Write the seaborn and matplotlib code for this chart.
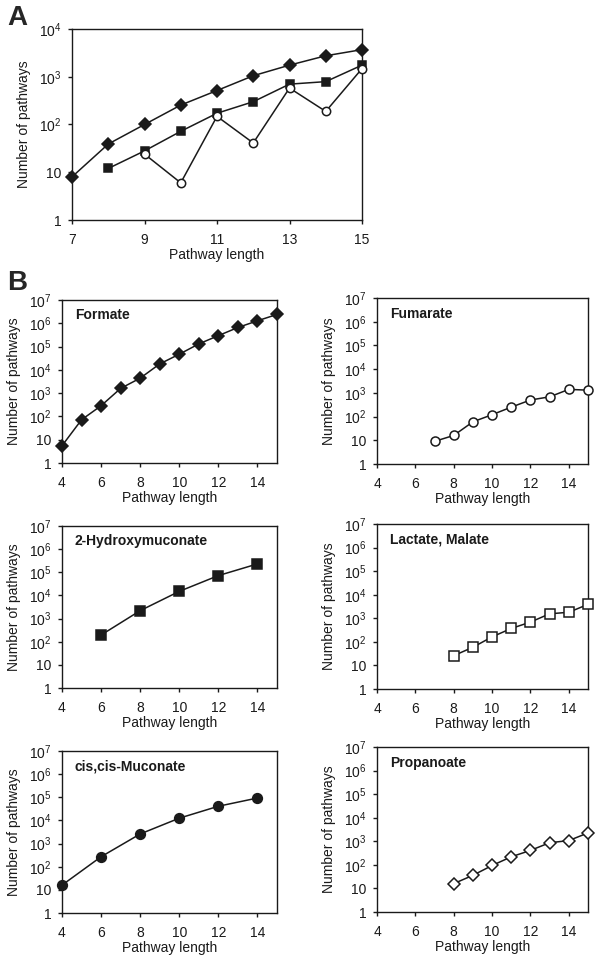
import numpy as np
import pandas as pd
import matplotlib
matplotlib.use("Agg")
import matplotlib.pyplot as plt
import seaborn as sns
from matplotlib.ticker import FixedLocator, FuncFormatter

# Panel A: three substrates, lengths 7..15
a_len_diamond = [7, 8, 9, 10, 11, 12, 13, 14, 15]
a_val_diamond = [8, 39, 100, 255, 515, 1050, 1750, 2750, 3700]
a_len_square = [8, 9, 10, 11, 12, 13, 14, 15]
a_val_square = [12, 28, 72, 172, 300, 700, 790, 1750]
a_len_circle = [9, 10, 11, 12, 13, 14, 15]
a_val_circle = [24, 6, 148, 41, 580, 188, 1480]

# Panel B
formate_len = [4, 5, 6, 7, 8, 9, 10, 11, 12, 13, 14, 15]
formate_val = [5.5, 72, 288, 1600, 4400, 18000, 47000, 130000, 295000, 660000, 1.28e6, 2.4e6]
fumarate_len = [7, 8, 9, 10, 11, 12, 13, 14, 15]
fumarate_val = [9, 16, 60, 120, 250, 500, 680, 1400, 1300]
hydroxy_len = [6, 8, 10, 12, 14]
hydroxy_val = [195, 2200, 15000, 72000, 230000]
lactate_len = [8, 9, 10, 11, 12, 13, 14, 15]
lactate_val = [26, 59, 163, 370, 690, 1550, 1800, 3900]
muconate_len = [4, 6, 8, 10, 12, 14]
muconate_val = [16, 270, 2600, 12500, 41000, 93000]
propanoate_len = [8, 9, 10, 11, 12, 13, 14, 15]
propanoate_val = [16, 36, 94, 220, 410, 870, 1070, 2270]

sns.set_style("ticks")
plt.rcParams['font.family'] = ['Liberation Sans', 'DejaVu Sans']
plt.rcParams['mathtext.fontset'] = 'custom'
plt.rcParams['mathtext.rm'] = 'Liberation Sans'
plt.rcParams['mathtext.it'] = 'Liberation Sans'
plt.rcParams['mathtext.bf'] = 'Liberation Sans:bold'

W, H = 604, 963
INK = '#1a1a1a'
fig = plt.figure(figsize=(W / 100, H / 100), dpi=100)


def box(left, top, right, bottom):
    return fig.add_axes([left / W, 1 - bottom / H, (right - left) / W, (bottom - top) / H])


def log_label(v, pos):
    if v == 1:
        return "1"
    if v == 10:
        return "10"
    return r"10$^{%d}$" % int(round(np.log10(v)))


def style_axes(ax, ymax_exp, xlim, xticks):
    ax.set_yscale('log')
    ax.set_ylim(1, 10 ** ymax_exp)
    ax.set_xlim(*xlim)
    ax.yaxis.set_major_locator(FixedLocator([10 ** k for k in range(ymax_exp + 1)]))
    ax.yaxis.set_major_formatter(FuncFormatter(log_label))
    ax.yaxis.set_minor_locator(FixedLocator([]))
    ax.set_xticks(xticks)
    for s in ax.spines.values():
        s.set_visible(True)
        s.set_linewidth(1.0)
        s.set_color(INK)
    ax.tick_params(axis='both', direction='out', length=3, width=1,
                   labelsize=10, colors=INK)
    ax.tick_params(axis='x', pad=6)
    ax.tick_params(axis='y', pad=4.5)
    ax.set_xlabel('Pathway length', fontsize=10, labelpad=1, color=INK)
    ax.set_ylabel('Number of pathways', fontsize=10, labelpad=6, color=INK)


def series(ax, lens, vals, marker, filled, ms=6.5):
    df = pd.DataFrame({'length': lens, 'pathways': vals})
    face = INK if filled else 'white'
    sns.lineplot(data=df, x='length', y='pathways', ax=ax, color=INK,
                 linewidth=1.1, marker=marker, markersize=ms,
                 markerfacecolor=face, markeredgecolor=INK,
                 markeredgewidth=1.1, clip_on=False, zorder=3)


# Panel A
axA = box(72, 29, 362, 220)
series(axA, a_len_diamond, a_val_diamond, 'D', True, 6)
series(axA, a_len_square, a_val_square, 's', True, 6)
series(axA, a_len_circle, a_val_circle, 'o', False, 6)
style_axes(axA, 4, (7, 15), [7, 9, 11, 13, 15])
fig.text(7 / W, 1 - 18 / H, 'A', fontsize=20, fontweight='bold', va='center')
fig.text(7 / W, 1 - 283 / H, 'B', fontsize=20, fontweight='bold', va='center')

panels = [
    ((62, 300, 277, 463), 'Formate', formate_len, formate_val, 'D', True, 6),
    ((377, 298, 588, 464), 'Fumarate', fumarate_len, fumarate_val, 'o', False, 6.5),
    ((62, 526, 277, 688), '2-Hydroxymuconate', hydroxy_len, hydroxy_val, 's', True, 6.5),
    ((377, 524, 588, 689), 'Lactate, Malate', lactate_len, lactate_val, 's', False, 6.5),
    ((62, 751, 277, 913), 'cis,cis-Muconate', muconate_len, muconate_val, 'o', True, 7),
    ((377, 747, 588, 912), 'Propanoate', propanoate_len, propanoate_val, 'D', False, 6.5),
]

for (l, t, r, b), name, lens, vals, mk, filled, ms in panels:
    ax = box(l, t, r, b)
    series(ax, lens, vals, mk, filled, ms)
    style_axes(ax, 7, (4, 15), [4, 6, 8, 10, 12, 14])
    ax.text(0.06, 0.905, name, transform=ax.transAxes, fontsize=10,
            fontweight='bold', va='center', ha='left', color=INK)

fig.savefig('out.png', dpi=100)
